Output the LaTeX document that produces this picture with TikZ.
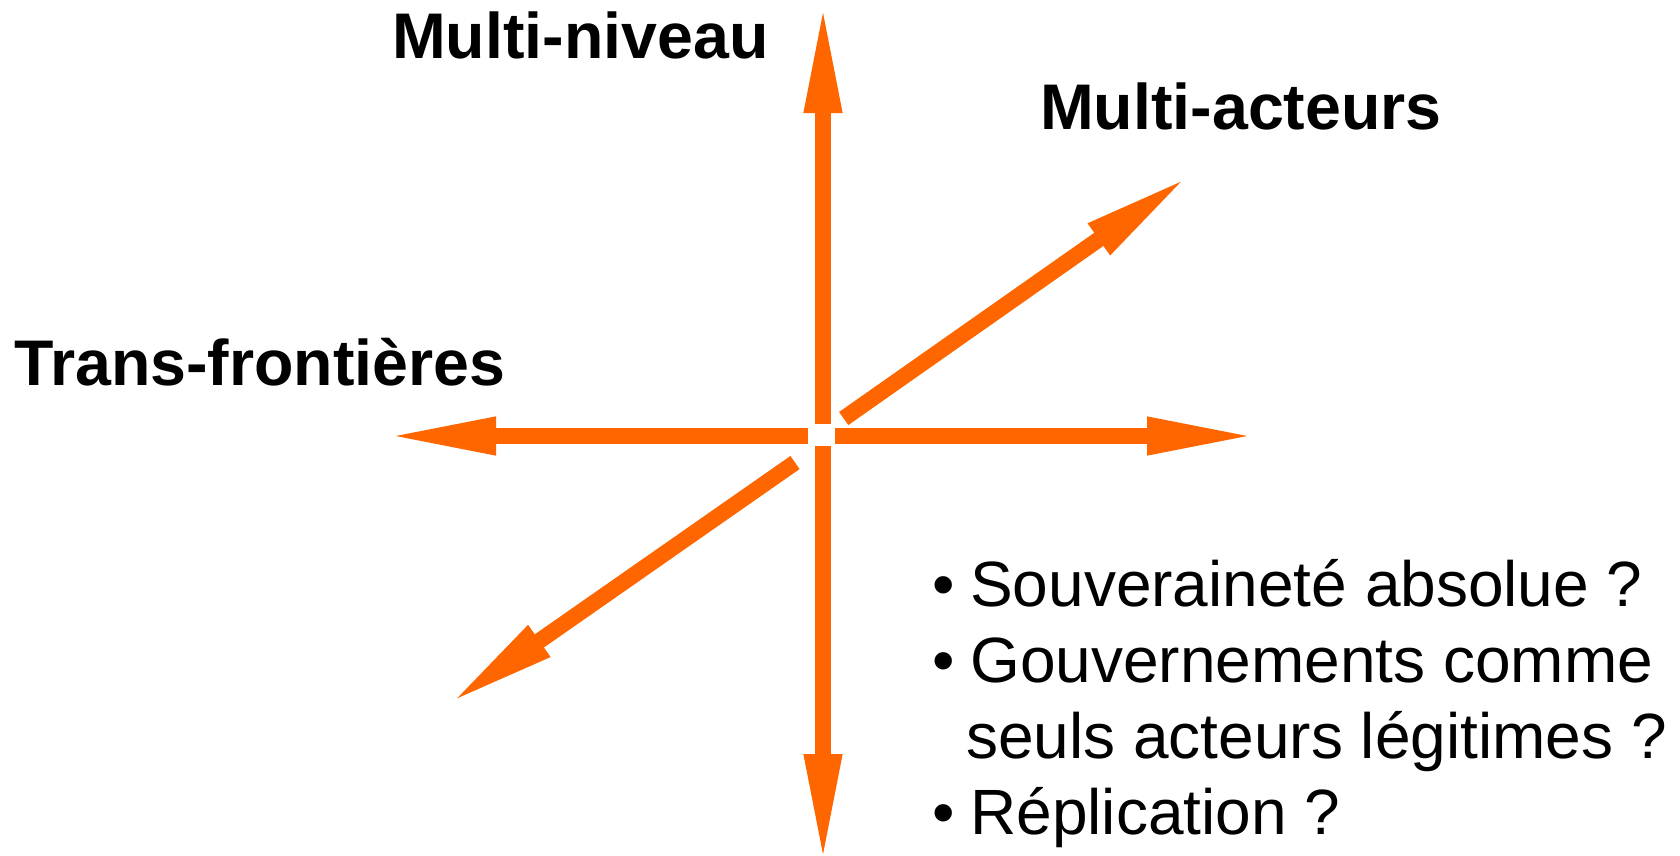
\documentclass[tikz,border=0pt]{standalone}
\usepackage{fontspec}
\setmainfont{Liberation Sans}
\usetikzlibrary{arrows.meta}
\definecolor{arrorange}{RGB}{255,102,0}
\tikzset{
  axis/.style={draw=arrorange, line width=16pt, line cap=butt,
    -{Triangle[length=112pt,width=34pt]}},
  bigtitle/.style={anchor=base west, inner sep=0pt, font=\fontsize{64.5}{75}\selectfont\bfseries},
  bultext/.style={anchor=base west, inner sep=0pt, font=\fontsize{64}{75}\selectfont},
}
\begin{document}
\begin{tikzpicture}[x=1pt,y=-1pt]
\useasboundingbox (0,0) rectangle (1680,855);
% axis end points
\coordinate (us) at (823,424);  \coordinate (ut) at (823,1);
\coordinate (ds) at (823,446);  \coordinate (dt) at (823,866);
\coordinate (ls) at (808,436);  \coordinate (lt) at (384,436);
\coordinate (rs) at (835,436);  \coordinate (rt) at (1259,436);
\coordinate (nes) at (843.7,418.5); \coordinate (net) at (1190.5,175);
\coordinate (sws) at (795,462.5);   \coordinate (swt) at (447.5,705);
\draw[axis] (us) -- (ut);
\draw[axis] (ds) -- (dt);
\draw[axis] (ls) -- (lt);
\draw[axis] (rs) -- (rt);
\draw[axis] (nes) -- (net);
\draw[axis] (sws) -- (swt);
% titles
\node[bigtitle] (niveau) at (392,58) {Multi-niveau};
\node[bigtitle] (acteurs) at (1040,129) {Multi-acteurs};
\node[bigtitle] (trans) at (14,385) {Trans-frontières};
% bullet list
\node[bultext] (b1) at (932,606) {•};
\node[bultext] (t1) at (970,606) {Souveraineté absolue ?};
\node[bultext] (b2) at (932,682) {•};
\node[bultext] (t2) at (970,682) {Gouvernements comme};
\node[bultext] (t3) at (966,758) {seuls acteurs légitimes ?};
\node[bultext] (b4) at (932,834) {•};
\node[bultext] (t4) at (970,834) {Réplication ?};
\end{tikzpicture}
\end{document}
